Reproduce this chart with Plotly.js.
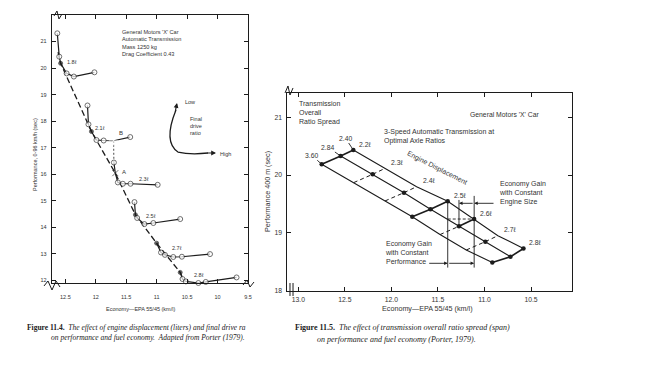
<!DOCTYPE html>
<html><head><meta charset="utf-8">
<script src="https://cdn.plot.ly/plotly-3.0.1.min.js"></script>
<style>html,body{margin:0;padding:0;background:#fff}#chart{width:646px;height:376px}</style>
</head><body><div id="chart"></div>
<script>
// ===== Figure 11.4 : economy (km/l) vs performance 0-96 km/h (sec) =====
const d18Econ = [12.633, 12.601, 12.578, 12.48, 12.361, 12.023];
const d18Perf = [21.31, 20.43, 20.18, 19.80, 19.68, 19.84];
const d21Econ = [12.137, 12.121, 12.072, 11.990, 11.871, 11.708, 11.435];
const d21Perf = [18.59, 17.88, 17.61, 17.29, 17.27, 17.26, 17.40];
const d23Econ = [11.703, 11.680, 11.638, 11.556, 11.430, 10.984];
const d23Perf = [16.44, 16.04, 15.69, 15.64, 15.64, 15.60];
const d25Econ = [11.365, 11.349, 11.321, 11.202, 11.055, 10.614];
const d25Perf = [14.95, 14.47, 14.35, 14.12, 14.16, 14.31];
const d27Econ = [11.001, 10.929, 10.864, 10.728, 10.586, 10.124];
const d27Perf = [13.40, 13.05, 12.96, 12.88, 12.89, 12.99];
const d28Econ = [10.614, 10.576, 10.521, 10.315, 10.194, 9.688];
const d28Perf = [12.30, 12.05, 11.96, 11.90, 11.94, 12.11];
const displacementLabels = ['1.8ℓ', '2.1ℓ', '2.3ℓ', '2.5ℓ', '2.7ℓ', '2.8ℓ'];
const optimumIndex = [2, 2, 1, 1, 0, 0];
const envelopeEcon = [12.62, 12.578, 12.072, 11.680, 11.349, 11.001, 10.614, 10.55];
const envelopePerf = [20.60, 20.18, 17.61, 16.04, 14.47, 13.40, 12.30, 11.96];
const leftXTicks = [12.5, 12, 11.5, 11, 10.5, 10, 9.5];
const leftXTickText = ['12.5', '12', '11.5', '11', '10.5', '10', '9.5'];
const leftYTicks = [12, 13, 14, 15, 16, 17, 18, 19, 20, 21];

// ===== Figure 11.5 : ratio spread lines =====
const engineDisp = ['2.2ℓ', '2.3ℓ', '2.4ℓ', '2.5ℓ', '2.6ℓ', '2.7ℓ', '2.8ℓ'];
const ratioSpreads = ['3.60', '2.84', '2.40'];
const econ360 = [12.749, 12.405, 12.069, 11.776, 11.478, 11.196, 10.916];
const perf360 = [20.187, 19.870, 19.552, 19.280, 18.971, 18.704, 18.488];
const econ284 = [12.545, 12.201, 11.865, 11.580, 11.274, 10.991, 10.721];
const perf284 = [20.330, 20.014, 19.696, 19.410, 19.114, 18.848, 18.588];
const econ240 = [12.409, 12.066, 11.729, 11.395, 11.111, 10.856, 10.581];
const perf240 = [20.434, 20.118, 19.799, 19.547, 19.240, 18.952, 18.730];
const marked360 = [1, 0, 0, 1, 0, 0, 1];
const marked284 = [1, 1, 1, 1, 1, 1, 1];
const marked240 = [1, 0, 0, 1, 1, 0, 1];
const rightXTicks = [13.0, 12.5, 12.0, 11.5, 11.0, 10.5];
const rightXTickText = ['13.0', '12.5', '12.0', '11.5', '11.0', '10.5'];
const rightYTicks = [18, 19, 20, 21];

// ---------------------------------------------------------------
const W = 646, H = 376;
const X = p => p / W, Y = p => 1 - p / H;
const ink = '#1c1c1c', txt = '#333';
const sans = 'Liberation Sans, Arial, sans-serif';
const serif = 'Liberation Serif, Times New Roman, serif';

const traces = [];
traces.push({x: envelopeEcon, y: envelopePerf, xaxis: 'x', yaxis: 'y', mode: 'lines',
  line: {color: ink, width: 1.3, dash: '6px,3px'}, cliponaxis: false});
traces.push({x: [d21Econ[5], d23Econ[0]], y: [d21Perf[5], d23Perf[0]], xaxis: 'x', yaxis: 'y',
  mode: 'lines', line: {color: ink, width: 0.8, dash: '2px,2px'}});
const curves = [[d18Econ, d18Perf], [d21Econ, d21Perf], [d23Econ, d23Perf],
                [d25Econ, d25Perf], [d27Econ, d27Perf], [d28Econ, d28Perf]];
curves.forEach(([ex, pf], k) => {
  const isB = i => k === 1 && i === 5, isA = i => k === 2 && i === 1;
  traces.push({x: ex, y: pf, xaxis: 'x', yaxis: 'y', mode: 'lines+markers', cliponaxis: false,
    line: {color: ink, width: 1.2},
    marker: {
      symbol: ex.map((_, i) => isB(i) ? 'asterisk-open' : isA(i) ? 'x-thin-open' : 'circle'),
      color: ex.map((_, i) => i === optimumIndex[k] ? ink : '#fff'),
      size: ex.map((_, i) => isB(i) ? 8 : isA(i) ? 6 : i === optimumIndex[k] ? 4 : 5),
      line: {color: ink, width: 0.9}
    }});
});

const rs = [[econ360, perf360, marked360], [econ284, perf284, marked284], [econ240, perf240, marked240]];
rs.forEach(([ex, pf]) => traces.push({x: ex, y: pf, xaxis: 'x2', yaxis: 'y2', mode: 'lines',
  line: {color: ink, width: 1.1}}));
engineDisp.forEach((d, i) => {
  [[0, 1, marked360[i]], [1, 2, marked240[i]]].forEach(([a, b, solid]) => traces.push({
    x: [rs[a][0][i], rs[b][0][i]], y: [rs[a][1][i], rs[b][1][i]], xaxis: 'x2', yaxis: 'y2',
    mode: 'lines', line: {color: ink, width: solid ? 1.6 : 1, dash: solid ? 'solid' : '4px,3px'}}));
});
const dotX = [], dotY = [];
rs.forEach(([ex, pf, m]) => ex.forEach((v, i) => { if (m[i]) { dotX.push(v); dotY.push(pf[i]); } }));
traces.push({x: dotX, y: dotY, xaxis: 'x2', yaxis: 'y2', mode: 'markers', cliponaxis: false,
  marker: {color: ink, size: 4.5}});

const axBase = {showgrid: false, zeroline: false, showline: true, mirror: 'ticks', linecolor: ink,
  linewidth: 1.2, ticks: 'inside', tickcolor: ink, ticklen: 4, tickwidth: 1, fixedrange: true};

const ann = [];
const T = (text, px, py, o = {}) => ann.push(Object.assign({text, x: X(px), y: Y(py), xref: 'paper',
  yref: 'paper', xanchor: 'center', yanchor: 'middle', showarrow: false,
  font: {family: sans, size: 6, color: txt}}, o));

// left chart texts
T("General Motors 'X' Car<br>Automatic Transmission<br>Mass 1250 kg<br>Drag Coefficient 0.43",
  120, 43, {xanchor: 'left', align: 'left', font: {family: sans, size: 5.6, color: txt}});
const labPos = [[72, 62], [100, 128], [144, 179], [151, 216], [177, 248], [199, 275]];
displacementLabels.forEach((t, k) => T(t, labPos[k][0], labPos[k][1], {font: {family: sans, size: 5.5, color: txt}}));
T('B', 121, 133, {font: {family: sans, size: 6, color: txt}});
T('A', 124, 172, {font: {family: sans, size: 6, color: txt}});
T('Low', 183, 102, {xanchor: 'left', font: {family: sans, size: 5.5, color: txt}});
T('Final<br>drive<br>ratio', 188, 126, {xanchor: 'left', align: 'left', font: {family: sans, size: 5.5, color: txt}});
T('High', 218, 154, {xanchor: 'left', font: {family: sans, size: 5.5, color: txt}});
T('Economy—EPA 55/45 (km/l)', 140, 309, {font: {family: sans, size: 5.5, color: txt}});
T('Performance, 0-96 km/h (sec)', 35, 155, {textangle: -90, font: {family: sans, size: 5.5, color: txt}});
// arrowheads of the final-drive curve
ann.push({x: X(177), y: Y(103), xref: 'paper', yref: 'paper', ax: -2, ay: 10, showarrow: true,
  arrowhead: 2, arrowsize: 0.8, arrowwidth: 1.2, arrowcolor: ink, text: ''});
ann.push({x: X(216), y: Y(153), xref: 'paper', yref: 'paper', ax: -10, ay: 0, showarrow: true,
  arrowhead: 2, arrowsize: 0.8, arrowwidth: 1.2, arrowcolor: ink, text: ''});

// right chart texts
T('Transmission<br>Overall<br>Ratio Spread', 297, 113, {xanchor: 'left', align: 'left', font: {family: sans, size: 7, color: txt}});
T("General Motors 'X' Car", 468, 114, {xanchor: 'left', font: {family: sans, size: 6.8, color: txt}});
T('3-Speed Automatic Transmission at<br>Optimal Axle Ratios', 382, 137, {xanchor: 'left', align: 'left', font: {family: sans, size: 7, color: txt}});
T('Engine Displacement', 437, 168, {textangle: 27, font: {family: sans, size: 7, color: txt}});
T('Economy Gain<br>with Constant<br>Engine Size', 497, 193, {xanchor: 'left', align: 'left', font: {family: sans, size: 7, color: txt}});
T('Economy Gain<br>with Constant<br>Performance', 383, 252, {xanchor: 'left', align: 'left', font: {family: sans, size: 7, color: txt}});
T('Economy—EPA 55/45 (km/l)', 427, 308, {font: {family: sans, size: 7.2, color: txt}});
T('Performance 400 m (sec)', 268, 192, {textangle: -90, font: {family: sans, size: 7.2, color: txt}});
ratioSpreads.forEach((t, k) => ann.push({text: t, x: rs[k][0][0], y: rs[k][1][0], xref: 'x2', yref: 'y2',
  showarrow: true, arrowhead: 0, arrowwidth: 0.9, arrowcolor: ink, standoff: 0,
  ax: [-10, -13, -8][k], ay: [-9, -9, -12][k], font: {family: sans, size: 6.8, color: txt}}));
engineDisp.forEach((t, i) => ann.push({text: t, x: econ240[i], y: perf240[i], xref: 'x2', yref: 'y2',
  showarrow: false, xshift: 12, yshift: 6, font: {family: sans, size: 6.8, color: txt}}));
// economy gain arrows (derived from data points)
const arr = (x0, x1, y) => ann.push({x: x1, y: y, ax: x0, ay: y, xref: 'x2', yref: 'y2', axref: 'x2', ayref: 'y2',
  showarrow: true, arrowhead: 2, arrowsize: 0.8, arrowwidth: 0.9, arrowcolor: ink, text: ''});
arr(10.887, econ240[4], 19.512);
arr(econ240[4], econ284[4], 19.512);
arr(11.61, econ240[3], 18.474);
arr(econ240[3], econ240[4], 18.474);

// captions
T('<b>Figure 11.4.</b>  <i>The effect of engine displacement (liters) and final drive ra</i>', 25, 327,
  {xanchor: 'left', font: {family: serif, size: 7.5, color: '#222'}});
T('<i>on performance and fuel economy.  Adapted from Porter (1979).</i>', 49, 337,
  {xanchor: 'left', font: {family: serif, size: 7.5, color: '#222'}});
T('<b>Figure 11.5.</b>  <i>The effect of transmission overall ratio spread (span)</i>', 293, 327,
  {xanchor: 'left', font: {family: serif, size: 8, color: '#222'}});
T('<i>on performance and fuel economy (Porter, 1979).</i>', 396, 339,
  {font: {family: serif, size: 8, color: '#222'}});

// shapes
const P = pts => pts.map((p, i) => (i ? 'L' : 'M') + X(p[0]).toFixed(4) + ',' + Y(p[1]).toFixed(4)).join(' ');
const shapes = [];
const pathShape = (d, w = 1) => shapes.push({type: 'path', xref: 'paper', yref: 'paper', path: d, line: {color: ink, width: w}});
// final drive ratio curve
pathShape('M' + X(176).toFixed(4) + ',' + Y(110).toFixed(4) + ' Q' + X(163).toFixed(4) + ',' + Y(142).toFixed(4) +
  ' ' + X(178).toFixed(4) + ',' + Y(152).toFixed(4) + ' Q' + X(190).toFixed(4) + ',' + Y(155).toFixed(4) +
  ' ' + X(208).toFixed(4) + ',' + Y(153).toFixed(4), 1.3);
// axis break marks
pathShape(P([[44, 286], [48, 281], [52, 290], [56, 281], [60, 287]]), 1);
pathShape(P([[54, 16], [57, 11], [59, 19], [62, 14]]), 1);
pathShape(P([[243, 285], [247, 280], [250, 287], [254, 282]]), 1);
pathShape(P([[285, 93], [288, 86], [290, 95], [293, 88]]), 1);
pathShape(P([[290, 283], [290, 296]]), 1);
pathShape(P([[293, 283], [293, 296]]), 1);
// economy gain guide lines (from data)
const gl = (x0, y0, x1, y1, dash) => shapes.push({type: 'line', xref: 'x2', yref: 'y2', x0, y0, x1, y1,
  line: {color: ink, width: 0.9, dash: dash || 'solid'}});
gl(econ240[3], perf240[3], econ240[3], 18.40);
gl(econ240[4], 19.64, econ240[4], 18.40);
gl(econ284[4], perf284[4], econ284[4], 19.57);
gl(econ240[3], perf240[4], econ240[4], perf240[4], '3px,2px');

const layout = {
  width: W, height: H, margin: {l: 0, r: 0, t: 0, b: 0}, paper_bgcolor: '#fff', plot_bgcolor: '#fff',
  showlegend: false, hovermode: false,
  xaxis: Object.assign({}, axBase, {domain: [X(52), X(248)], range: [12.72, 9.5], anchor: 'y',
    tickvals: leftXTicks, ticktext: leftXTickText, tickfont: {family: sans, size: 5.5, color: txt}, ticklabelstandoff: 8}),
  yaxis: Object.assign({}, axBase, {domain: [Y(283), Y(15)], range: [11.9, 22], anchor: 'x',
    tickvals: leftYTicks, tickfont: {family: sans, size: 5.5, color: txt}, ticklabelstandoff: 3}),
  xaxis2: Object.assign({}, axBase, {domain: [X(286.7), X(571.7)], range: [13.125, 10.063], anchor: 'y2',
    tickvals: rightXTicks, ticktext: rightXTickText, tickfont: {family: sans, size: 6.8, color: txt}, ticklabelstandoff: 2}),
  yaxis2: Object.assign({}, axBase, {domain: [Y(290.7), Y(93)], range: [18, 21.42], anchor: 'x2',
    tickvals: rightYTicks, tickfont: {family: sans, size: 6.8, color: txt}, ticklabelstandoff: 2}),
  annotations: ann, shapes: shapes
};
Plotly.newPlot('chart', traces, layout, {staticPlot: true, displayModeBar: false});
</script></body></html>
